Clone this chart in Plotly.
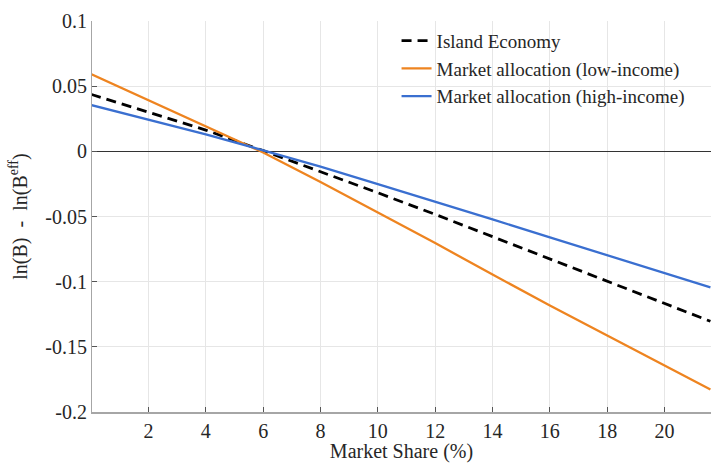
import plotly.graph_objects as go

# Market share (%) at which each welfare gap is evaluated
market_share = [0, 2, 4, 6, 8, 10, 12, 14, 16, 18, 20, 21.6]

# ln(B) - ln(B^eff) for each allocation
island_economy = [0.0437, 0.0300, 0.0163, 0.0005, -0.0155, -0.0318, -0.0484,
                  -0.0656, -0.0827, -0.0997, -0.1167, -0.1304]
low_income = [0.0593, 0.0393, 0.0191, -0.0009, -0.0235, -0.0468, -0.0704,
              -0.0945, -0.1183, -0.1413, -0.1640, -0.1827]
high_income = [0.0355, 0.0243, 0.0130, 0.0008, -0.0118, -0.0252, -0.0386,
               -0.0522, -0.0660, -0.0797, -0.0934, -0.1044]

x_ticks = [2, 4, 6, 8, 10, 12, 14, 16, 18, 20]
y_ticks = [-0.2, -0.15, -0.1, -0.05, 0, 0.05, 0.1]
y_tick_text = ["-0.2", "-0.15", "-0.1", "-0.05", "0", "0.05", "0.1"]

FONT = "Liberation Serif"
TEXT = "#262626"
SIZE = 20

fig = go.Figure()
fig.add_trace(go.Scatter(
    x=market_share, y=island_economy, mode="lines", name="Island Economy",
    line=dict(color="black", width=2.8, dash="10px,6px")))
fig.add_trace(go.Scatter(
    x=market_share, y=low_income, mode="lines",
    name="Market allocation (low-income)",
    line=dict(color="#EE8420", width=2.3)))
fig.add_trace(go.Scatter(
    x=market_share, y=high_income, mode="lines",
    name="Market allocation (high-income)",
    line=dict(color="#3A6FD0", width=2.3)))

fig.update_layout(
    width=711, height=463,
    margin=dict(l=92, r=0, t=21, b=51),
    paper_bgcolor="white", plot_bgcolor="white",
    font=dict(family=FONT, size=SIZE, color=TEXT),
    showlegend=True,
    legend=dict(x=0.492, y=0.998, xanchor="left", yanchor="top",
                bgcolor="rgba(255,255,255,0)", borderwidth=0,
                font=dict(family=FONT, size=19, color=TEXT),
                itemwidth=30, tracegroupgap=0),
)

fig.update_xaxes(
    range=[0.03, 21.62], tickvals=x_ticks,
    showgrid=True, gridcolor="#E6E6E6", gridwidth=1,
    showline=True, linecolor="#A6A6A6", linewidth=2,
    ticks="inside", ticklen=5, tickcolor="#555555",
    zeroline=False,
    title=dict(text="Market Share (%)", standoff=2,
               font=dict(family=FONT, size=SIZE, color=TEXT)),
    tickfont=dict(family=FONT, size=SIZE, color=TEXT),
)
fig.update_yaxes(
    range=[-0.2, 0.1], tickvals=y_ticks, ticktext=y_tick_text,
    showgrid=True, gridcolor="#E6E6E6", gridwidth=1,
    showline=True, linecolor="#A6A6A6", linewidth=1,
    ticks="inside", ticklen=5, tickcolor="#555555",
    zeroline=True, zerolinecolor="#333333", zerolinewidth=1,
    title=dict(text="ln(B)  -  ln(B<sup>eff</sup>)", standoff=12,
               font=dict(family=FONT, size=SIZE, color=TEXT)),
    tickfont=dict(family=FONT, size=SIZE, color=TEXT),
)

fig.write_html("out.html")
